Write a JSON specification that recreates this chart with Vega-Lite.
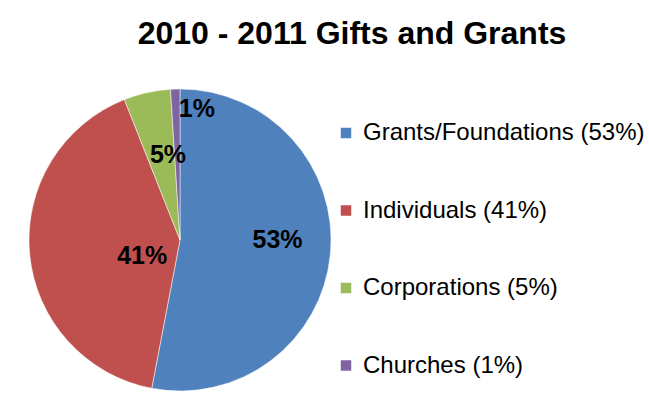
{
  "$schema": "https://vega.github.io/schema/vega-lite/v6.json",
  "width": 302,
  "height": 302,
  "autosize": {"type": "none"},
  "padding": {"left": 29, "top": 89, "right": 318, "bottom": 13},
  "background": "#ffffff",
  "config": {"view": {"stroke": null}, "font": "Liberation Sans"},
  "title": {
    "text": "2010 - 2011 Gifts and Grants",
    "font": "Liberation Sans",
    "fontSize": 32,
    "fontWeight": "bold",
    "color": "#000000",
    "anchor": "middle",
    "frame": "group",
    "baseline": "alphabetic",
    "dx": 172,
    "offset": 12
  },
  "data": {
    "values": [
      {"category": "Grants/Foundations (53%)", "share": 0.53, "order": 1},
      {"category": "Individuals (41%)", "share": 0.41, "order": 2},
      {"category": "Corporations (5%)", "share": 0.05, "order": 3},
      {"category": "Churches (1%)", "share": 0.01, "order": 4}
    ]
  },
  "encoding": {
    "theta": {"field": "share", "type": "quantitative", "stack": true},
    "order": {"field": "order", "type": "quantitative"}
  },
  "layer": [
    {
      "mark": {"type": "arc", "stroke": "#ffffff", "strokeWidth": 0.5},
      "encoding": {
        "color": {
          "field": "category",
          "type": "nominal",
          "sort": null,
          "scale": {
            "domain": ["Grants/Foundations (53%)", "Individuals (41%)", "Corporations (5%)", "Churches (1%)"],
            "range": ["#4F81BD", "#C0504D", "#9BBB59", "#8064A2"]
          },
          "legend": {
            "title": null,
            "orient": "none",
            "legendX": 305,
            "legendY": 32,
            "padding": 0,
            "symbolType": "square",
            "symbolSize": 110,
            "symbolStrokeWidth": 0,
            "symbolOpacity": 1,
            "labelFont": "Liberation Sans",
            "labelFontSize": 24,
            "labelColor": "#000000",
            "labelOffset": 5,
            "labelLimit": 400,
            "rowPadding": 53.5
          }
        }
      }
    },
    {
      "mark": {"type": "text", "radius": 98, "dy": -9, "font": "Liberation Sans", "fontSize": 25, "fontWeight": "bold", "color": "#000000", "baseline": "middle", "align": "center"},
      "encoding": {
        "text": {"field": "share", "type": "quantitative", "format": ".0%"},
        "opacity": {"condition": {"test": "datum.order === 1", "value": 1}, "value": 0}
      }
    },
    {
      "mark": {"type": "text", "radius": 38, "dy": 12, "font": "Liberation Sans", "fontSize": 25, "fontWeight": "bold", "color": "#000000", "baseline": "middle", "align": "center"},
      "encoding": {
        "text": {"field": "share", "type": "quantitative", "format": ".0%"},
        "opacity": {"condition": {"test": "datum.order === 2", "value": 1}, "value": 0}
      }
    },
    {
      "mark": {"type": "text", "radius": 87, "dx": 7, "font": "Liberation Sans", "fontSize": 25, "fontWeight": "bold", "color": "#000000", "baseline": "middle", "align": "center"},
      "encoding": {
        "text": {"field": "share", "type": "quantitative", "format": ".0%"},
        "opacity": {"condition": {"test": "datum.order === 3", "value": 1}, "value": 0}
      }
    },
    {
      "mark": {"type": "text", "radius": 131, "dx": 21, "font": "Liberation Sans", "fontSize": 25, "fontWeight": "bold", "color": "#000000", "baseline": "middle", "align": "center"},
      "encoding": {
        "text": {"field": "share", "type": "quantitative", "format": ".0%"},
        "opacity": {"condition": {"test": "datum.order === 4", "value": 1}, "value": 0}
      }
    }
  ]
}
